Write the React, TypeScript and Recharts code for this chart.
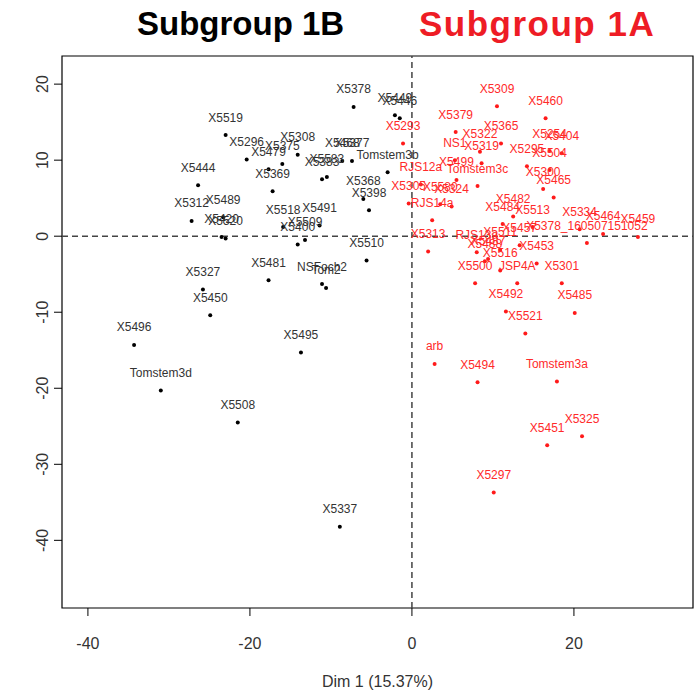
import React from "react";
import {
  ScatterChart,
  Scatter,
  XAxis,
  YAxis,
  ReferenceLine,
  ReferenceArea,
  LabelList,
} from "recharts";

// subgroup 1B (black)
const blackNames = [
  "X5519", "X5444", "X5312", "X5489", "X5420", "X5520", "X5378", "X5449", "X5446",
  "X5296", "X5479", "X5375", "X5308", "X5369", "X5383", "X5583", "X5468", "X5377",
  "Tomstem3b", "X5368", "X5398", "X5518", "X5491", "X5509", "X5400", "X5510",
  "X5481", "NSFoch2", "Tom2", "X5495", "X5508", "X5327", "X5450", "X5496",
  "Tomstem3d", "X5337",
];
const blackX = [
  -23.0, -26.4, -27.2, -23.3, -23.5, -23.0, -7.2, -2.1, -1.5,
  -20.4, -17.7, -16.0, -14.1, -17.2, -11.1, -10.5, -8.6, -7.4,
  -3.0, -6.0, -5.3, -15.9, -11.4, -13.2, -14.1, -5.6,
  -17.7, -11.1, -10.6, -13.7, -21.5, -25.8, -24.9, -34.3,
  -31.0, -8.9,
];
const blackY = [
  13.3, 6.7, 2.0, 2.5, -0.1, -0.3, 17.0, 15.9, 15.5,
  10.1, 8.8, 9.5, 10.7, 5.9, 7.5, 7.8, 9.9, 9.9,
  8.4, 4.9, 3.4, 1.2, 1.4, -0.5, -1.1, -3.2,
  -5.8, -6.3, -6.8, -15.3, -24.5, -7.0, -10.4, -14.3,
  -20.3, -38.2,
];

// subgroup 1A (red)
const redNames = [
  "X5309", "X5293", "X5379", "X5365", "X5322", "NS1", "X5319", "X5499", "Tomstem3c",
  "RJS12a", "X5305", "X5580", "X5324", "RJS14a", "X5460", "X5254", "X5404", "X5295",
  "X5504", "X5300", "X5465", "X5482", "X5484", "X5513", "X5334", "X5464", "X5459",
  "X5378_160507151052", "X5313", "RJS13a", "X5511", "X5487", "X5488", "X5516",
  "X5457", "X5453", "X5500", "JSP4A", "X5492", "X5521", "X5301", "X5485", "arb",
  "X5494", "Tomstem3a", "X5451", "X5325", "X5297",
];
const redX = [
  10.5, -1.1, 5.4, 11.0, 8.4, 5.3, 8.6, 5.5, 8.1,
  1.1, -0.4, 3.5, 4.9, 2.5, 16.5, 17.0, 18.5, 14.2,
  17.0, 16.2, 17.5, 12.5, 11.2, 14.9, 20.7, 23.6, 27.9,
  21.6, 2.0, 8.0, 10.9, 9.4, 9.0, 10.9,
  13.3, 15.4, 7.8, 13.0, 11.6, 14.0, 18.5, 20.1, 2.8,
  8.1, 17.9, 16.7, 21.0, 10.1,
];
const redY = [
  17.1, 12.2, 13.7, 12.2, 11.1, 10.0, 9.6, 7.4, 6.6,
  6.8, 4.3, 4.2, 3.9, 2.1, 15.5, 11.2, 10.9, 9.2,
  8.7, 6.2, 5.1, 2.6, 1.6, 1.2, 0.9, 0.3, -0.1,
  -0.9, -2.0, -2.1, -1.8, -3.0, -3.3, -4.5,
  -1.2, -3.6, -6.2, -6.2, -9.9, -12.8, -6.2, -10.1, -16.8,
  -19.2, -19.1, -27.5, -26.3, -33.7,
];

const xTicks = [-40, -20, 0, 20];
const yTicks = [-40, -30, -20, -10, 0, 10, 20];
const xDomain = [-43.2, 34.7];
const yDomain = [-48.9, 23.7];

const blackData = blackNames.map((name, i) => ({ name, x: blackX[i], y: blackY[i] }));
const redData = redNames.map((name, i) => ({ name, x: redX[i], y: redY[i] }));

const FONT = "'Liberation Sans', Arial, sans-serif";

const YTick = (props: any) => {
  const { x, y, payload } = props;
  return (
    <text
      x={0}
      y={0}
      transform={`translate(${x - 4},${y}) rotate(-90)`}
      textAnchor="middle"
      fontSize={16}
      fill="#333"
      fontFamily={FONT}
    >
      {payload.value}
    </text>
  );
};

const smallDot = (color: string) => (p: any) =>
  <circle cx={p.cx} cy={p.cy} r={2} fill={color} />;

export default function App() {
  return (
    <div
      style={{
        position: "absolute",
        left: 0,
        top: 0,
        width: 696,
        height: 693,
        background: "#fff",
        fontFamily: FONT,
      }}
    >
      <div
        style={{
          position: "absolute",
          left: 137,
          top: 5,
          fontSize: 33,
          fontWeight: 700,
          color: "#000",
        }}
      >
        Subgroup 1B
      </div>
      <div
        style={{
          position: "absolute",
          left: 419,
          top: 4,
          fontSize: 35,
          fontWeight: 700,
          letterSpacing: 1.5,
          color: "#ee1c25",
        }}
      >
        Subgroup 1A
      </div>
      <ScatterChart
        width={696}
        height={693}
        margin={{ top: 56, right: 3, bottom: 0, left: 0 }}
      >
        <XAxis
          type="number"
          dataKey="x"
          domain={xDomain}
          ticks={xTicks}
          allowDataOverflow
          axisLine={false}
          tickLine={{ stroke: "#000" }}
          tickSize={8}
          tickMargin={22}
          height={85}
          tick={{ fontSize: 16, fill: "#333", fontFamily: FONT }}
          label={{
            value: "Dim 1 (15.37%)",
            position: "insideBottom",
            offset: 6,
            style: { fontSize: 16, fill: "#333", fontFamily: FONT },
          }}
        />
        <YAxis
          type="number"
          dataKey="y"
          domain={yDomain}
          ticks={yTicks}
          allowDataOverflow
          axisLine={false}
          tickLine={{ stroke: "#000" }}
          tickSize={8}
          width={62}
          tick={<YTick />}
        />
        <ReferenceArea
          x1={xDomain[0]}
          x2={xDomain[1]}
          y1={yDomain[0]}
          y2={yDomain[1]}
          fill="none"
          stroke="#000"
          strokeWidth={1.2}
          ifOverflow="visible"
        />
        <ReferenceLine x={0} stroke="#444" strokeWidth={1.5} strokeDasharray="6 4" />
        <ReferenceLine y={0} stroke="#444" strokeWidth={1.5} strokeDasharray="6 4" />
        <Scatter
          data={blackData}
          fill="#000"
          shape={smallDot("#000")}
          isAnimationActive={false}
        >
          <LabelList
            dataKey="name"
            position="top"
            offset={9}
            style={{ fontSize: 12, fill: "#333", fontFamily: FONT }}
          />
        </Scatter>
        <Scatter
          data={redData}
          fill="#ff1a1a"
          shape={smallDot("#ff1a1a")}
          isAnimationActive={false}
        >
          <LabelList
            dataKey="name"
            position="top"
            offset={9}
            style={{ fontSize: 12, fill: "#ff2a2a", fontFamily: FONT }}
          />
        </Scatter>
      </ScatterChart>
    </div>
  );
}
